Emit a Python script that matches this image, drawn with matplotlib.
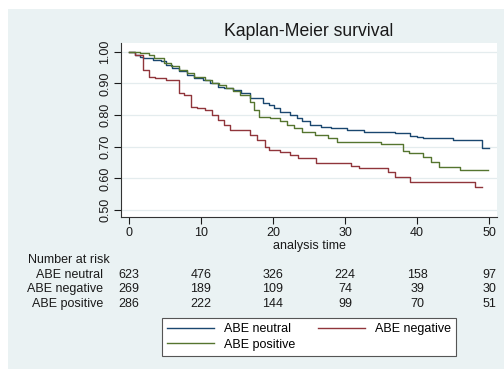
import matplotlib.pyplot as plt
import matplotlib.transforms as mtransforms
from matplotlib.patches import Rectangle

plt.rcParams['font.family'] = ['Liberation Sans', 'DejaVu Sans']

# Kaplan-Meier step curves (time, survival)
neutral_t = [0, 0.8, 1.5, 2, 3.4, 4.5, 5.1, 6, 7, 8.1, 9.1, 10.3, 11.2, 12.3, 13.2, 14.4,
             15.5, 16.8, 18.6, 19.4, 20.1, 21, 22.4, 23.3, 24, 25.2, 26.6, 28, 30.3, 32.6,
             37, 39, 40, 40.8, 45, 49, 50]
neutral_s = [1.00, 0.99, 0.985, 0.98, 0.975, 0.97, 0.959, 0.948, 0.938, 0.927, 0.917, 0.911,
             0.90, 0.89, 0.885, 0.88, 0.869, 0.853, 0.838, 0.833, 0.822, 0.811, 0.80, 0.79,
             0.78, 0.769, 0.764, 0.758, 0.753, 0.748, 0.743, 0.735, 0.73, 0.727, 0.722,
             0.695, 0.695]

negative_t = [0, 0.8, 2, 2.8, 3.6, 5.1, 6.9, 7.6, 8.6, 9.5, 10.5, 11.5, 12.3, 13.2, 14.1,
              16.8, 17.8, 18.9, 19.5, 21, 22.4, 23.5, 26, 30.9, 32, 36, 37, 39, 48, 49]
negative_s = [1.00, 0.99, 0.943, 0.922, 0.917, 0.911, 0.869, 0.864, 0.827, 0.822, 0.816,
              0.80, 0.785, 0.769, 0.753, 0.737, 0.72, 0.70, 0.69, 0.685, 0.674, 0.664,
              0.65, 0.639, 0.632, 0.621, 0.603, 0.59, 0.572, 0.572]

positive_t = [0, 1.5, 2.8, 3.5, 4.9, 5.8, 7, 8, 9, 10.5, 11.5, 12.5, 13.5, 14.5, 15.4, 16.8,
              17.3, 18, 19.6, 21, 22, 22.9, 24, 25.8, 27.7, 28.9, 35, 38, 38.9, 40.8, 42,
              43, 46, 49.9]
positive_s = [1.00, 0.995, 0.99, 0.98, 0.964, 0.955, 0.943, 0.932, 0.922, 0.911, 0.90,
              0.895, 0.885, 0.875, 0.864, 0.843, 0.816, 0.795, 0.79, 0.78, 0.769, 0.758,
              0.748, 0.737, 0.727, 0.716, 0.709, 0.687, 0.68, 0.669, 0.653, 0.637, 0.627,
              0.627]

# number at risk table
risk_times = [0, 10, 20, 30, 40, 50]
risk_neutral = [623, 476, 326, 224, 158, 97]
risk_negative = [269, 189, 109, 74, 39, 30]
risk_positive = [286, 222, 144, 99, 70, 51]

x_ticks = [0, 10, 20, 30, 40, 50]
y_ticks = [0.50, 0.60, 0.70, 0.80, 0.90, 1.00]

c_neutral = '#1a476f'
c_negative = '#90353b'
c_positive = '#55752f'
bg = '#eaf2f3'
txt = '#1a1a1a'

fig = plt.figure(figsize=(5.04, 3.69), dpi=100, facecolor='white')
# light graph region, leaving a thin white strip on the top and left
fig.patches.append(Rectangle((8 / 504, 0), 1, 1 - 9 / 369, transform=fig.transFigure,
                             facecolor=bg, edgecolor='none', zorder=-10))

ax = fig.add_axes([121 / 504, 1 - 217 / 369, 376 / 504, 174 / 369])
ax.set_facecolor('white')

l1, = ax.step(neutral_t, neutral_s, where='post', color=c_neutral, lw=1.0)
l2, = ax.step(negative_t, negative_s, where='post', color=c_negative, lw=1.0)
l3, = ax.step(positive_t, positive_s, where='post', color=c_positive, lw=1.0)

ax.set_xlim(-1.1, 51.1)
ax.set_ylim(0.478, 1.028)
ax.set_xticks(x_ticks)
ax.set_yticks(y_ticks)
ax.set_yticklabels([f'{v:.2f}' for v in y_ticks], rotation=90, va='center')
ax.tick_params(axis='both', labelsize=9, colors=txt, length=5, width=0.8)
ax.tick_params(axis='y', pad=2)
ax.tick_params(axis='x', pad=2)
ax.grid(axis='y', color='#e4ecee', lw=0.9)
ax.set_axisbelow(True)
for s in ['top', 'right']:
    ax.spines[s].set_visible(False)
for s in ['left', 'bottom']:
    ax.spines[s].set_color('#333333')
    ax.spines[s].set_linewidth(0.8)

ax.set_xlabel('analysis time', fontsize=9, color=txt, labelpad=1)
fig.text(309 / 504, 1 - 32 / 369, 'Kaplan-Meier survival', fontsize=12.7, color=txt,
         ha='center', va='center')

# number at risk table under the axis
trans = mtransforms.blended_transform_factory(ax.transData, fig.transFigure)
fig.text(110 / 504, 1 - 260 / 369, 'Number at risk', fontsize=9, color=txt,
         ha='right', va='center')
rows = [('ABE neutral', risk_neutral, 275), ('ABE negative', risk_negative, 289),
        ('ABE positive', risk_positive, 304)]
for name, vals, py in rows:
    fig.text(103 / 504, 1 - py / 369, name, fontsize=9, color=txt, ha='right', va='center')
    for t, v in zip(risk_times, vals):
        ax.text(t, 1 - py / 369, str(v), transform=trans, fontsize=9, color=txt,
                ha='center', va='center', clip_on=False)

leg = fig.legend([l1, l3, l2], ['ABE neutral', 'ABE positive', 'ABE negative'], ncol=2,
                 loc='center', bbox_to_anchor=(309 / 504, 1 - 337 / 369), fontsize=9,
                 frameon=True, fancybox=False, framealpha=1, handlelength=3.8,
                 columnspacing=1.8, handletextpad=0.8, labelspacing=0.25, borderpad=0.4)
leg.get_frame().set_facecolor('white')
leg.get_frame().set_edgecolor('#555555')
leg.get_frame().set_linewidth(0.8)

fig.savefig('out.png', dpi=100, facecolor='white')
